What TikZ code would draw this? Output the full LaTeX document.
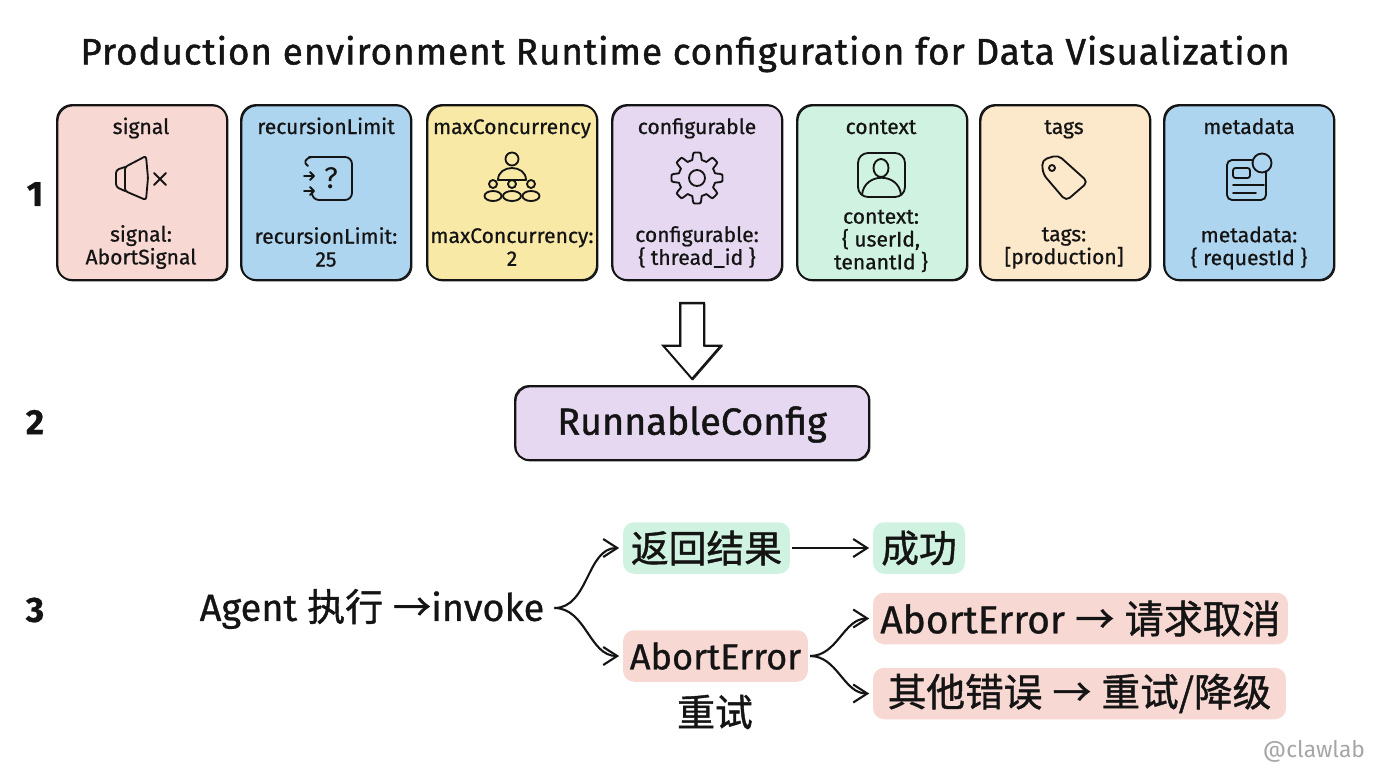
\documentclass[tikz,border=0pt]{standalone}
\usepackage{fontspec}
\setmainfont[FakeBold=0.7]{Fira Sans}
\newfontfamily\cjk[FakeBold=1.1]{Noto Sans CJK SC}
\usetikzlibrary{shapes.arrows, arrows.meta}
\definecolor{inkc}{HTML}{141414}
\definecolor{redc}{HTML}{F8D8D3}
\definecolor{bluec}{HTML}{AED5EF}
\definecolor{yellowc}{HTML}{F8E9A6}
\definecolor{purplec}{HTML}{E6D8F1}
\definecolor{greenc}{HTML}{D0F3E1}
\definecolor{orangec}{HTML}{FCE8CA}
\tikzset{
	sketch/.style={postaction={draw=inkc, line width=0.55pt, transform canvas={shift={(0.55pt, -0.5pt)}}}},
	card/.style={draw=inkc, line width=1.05pt, rounded corners=0.3cm, minimum width=3.4cm, minimum height=3.5cm, sketch},
	cardtext/.style={text=inkc, font=\fontsize{12}{13}\selectfont, align=center, inner sep=0pt},
	cardname/.style={cardtext, anchor=base},
	icon/.style={draw=inkc, line width=1.05pt, line cap=round, line join=round},
	rownum/.style={text=inkc, font=\fontsize{20}{24}\selectfont\bfseries},
	chip/.style={rounded corners=0.22cm, minimum height=1.03cm, text=inkc, font=\fontsize{21.5}{25}\selectfont, inner sep=0pt},
	flow/.style={draw=inkc, line width=1.2pt, -{Straight Barb[length=2.8mm, width=3.6mm]}, shorten <=1pt, shorten >=2pt},
}
\begin{document}
\begin{tikzpicture}[x=0.02cm, y=-0.02cm]
	\useasboundingbox (0, 0) rectangle (1376, 768);
	\node[text=inkc, font=\fontsize{21}{25}\selectfont\addfontfeature{LetterSpace=2.5, FakeBold=1.2}] (title) at (685, 54) {Production environment Runtime configuration for Data Visualization};
	\node[rownum] (rowa) at (35, 194) {1};
	\node[rownum] (rowb) at (35, 422) {2};
	\node[rownum] (rowc) at (35, 610) {3};

	\node[card, fill=redc] (signal) at (142, 192.5) {};
	\node[card, fill=bluec] (recursion) at (326, 192.5) {};
	\node[card, fill=yellowc] (concurrency) at (512, 192.5) {};
	\node[card, fill=purplec] (configurable) at (697, 192.5) {};
	\node[card, fill=greenc] (context) at (882, 192.5) {};
	\node[card, fill=orangec] (tags) at (1065, 192.5) {};
	\node[card, fill=bluec] (metadata) at (1249, 192.5) {};

	\node[cardname] (signalname) at (141, 134) {signal};
	\node[cardname] (recursionname) at (326, 134) {recursionLimit};
	\node[cardname] (concurrencyname) at (512, 134) {maxConcurrency};
	\node[cardname] (configurablename) at (697, 134) {configurable};
	\node[cardname] (contextname) at (881, 134) {context};
	\node[cardname] (tagsname) at (1064, 134) {tags};
	\node[cardname] (metadataname) at (1249, 134) {metadata};

	\node[cardtext] (signalvalue) at (141, 247) {signal:\\AbortSignal};
	\node[cardtext] (recursionvalue) at (326, 247) {recursionLimit:\\25};
	\node[cardtext] (concurrencyvalue) at (512, 247) {maxConcurrency:\\2};
	\node[cardtext] (configurablevalue) at (697, 247) {configurable:\\\{ thread\_id \}};
	\node[cardtext] (contextvalue) at (881, 241) {context:\\\{ userId,\\tenantId \}};
	\node[cardtext] (tagsvalue) at (1064, 248) {tags:\\{[production]}};
	\node[cardtext] (metadatavalue) at (1249, 248) {metadata:\\\{ requestId \}};

	\draw[icon, rounded corners=0.06cm] (125, 167) -- (116, 170) -- (116, 187) -- (125, 191);
	\draw[icon, rounded corners=0.05cm] (125, 167) -- (146, 156) -- (148, 178) -- (146, 200) -- (125, 191) -- cycle;
	\draw[icon] (154, 173) -- (166, 185) (166, 173) -- (154, 185);

	\draw[icon, rounded corners=0.14cm] (309, 157) -- (352, 157) -- (352, 200) -- (312, 200) -- (312, 192);
	\draw[icon] (312, 157) .. controls (305, 158) and (303, 163) .. (308, 166);
	\draw[icon] (304, 176) -- (314, 176) (310, 172) -- (314, 176) -- (310, 180);
	\draw[icon] (304, 191) -- (314, 191) (310, 187) -- (314, 191) -- (310, 195);
	\node[text=inkc, font=\fontsize{17}{20}\selectfont\addfontfeature{FakeBold=0}, inner sep=0pt] (question) at (331, 178) {?};

	\draw[icon] (512, 159) circle[radius=6.5];
	\draw[icon] (498, 180) .. controls (498, 164) and (526, 164) .. (526, 180) -- cycle;
	\draw[icon] (493, 184) circle[radius=4];
	\draw[icon] (512, 184) circle[radius=4];
	\draw[icon] (531, 184) circle[radius=4];
	\draw[icon] (493, 196) ellipse[x radius=8.5, y radius=5];
	\draw[icon] (512, 196) ellipse[x radius=9, y radius=5];
	\draw[icon] (531, 196) ellipse[x radius=8.5, y radius=5];

	\draw[icon] plot[domain=0:360, samples=145, smooth] ({697 + (22 + 3.5*max(min(2.5*cos(8*\x), 1), -1))*cos(\x)}, {178 + (22 + 3.5*max(min(2.5*cos(8*\x), 1), -1))*sin(\x)}) -- cycle;
	\draw[icon] (697, 178) circle[radius=8];

	\draw[icon, rounded corners=0.2cm] (858, 153) rectangle (905, 197);
	\draw[icon] (881, 168) ellipse[x radius=7.5, y radius=9];
	\draw[icon] (862, 195) .. controls (864, 172) and (899, 172) .. (901, 195);

	\draw[icon, rounded corners=0.1cm] (1042, 160) -- (1058, 155) -- (1088, 182) -- (1066, 201) -- (1043, 174) -- cycle;
	\draw[icon] (1052, 168) circle[radius=3];

	\draw[icon, rounded corners=0.1cm] (1252, 160) -- (1227, 160) -- (1227, 200) -- (1266, 200) -- (1266, 171);
	\draw[icon] (1262, 163) circle[radius=9.5];
	\draw[icon, rounded corners=0.05cm] (1233, 168) rectangle (1250, 178);
	\draw[icon] (1233, 185) -- (1264, 185);
	\draw[icon] (1233, 193) -- (1256, 193);

	\node[draw=inkc, line width=1.1pt, fill=white, shape=single arrow, rotate=-90, minimum height=1.52cm, minimum width=1.12cm, single arrow head extend=0.34cm, single arrow head indent=0cm, single arrow tip angle=82, inner sep=0.22cm, sketch] (bigarrow) at (692, 334) {};

	\node[draw=inkc, line width=1.05pt, fill=purplec, rounded corners=0.28cm, minimum width=7.08cm, minimum height=1.48cm, sketch] (runnable) at (692, 423) {};
	\node[text=inkc, font=\fontsize{21.5}{25}\selectfont\addfontfeature{FakeBold=1.2}] (runnablename) at (692, 424.5) {RunnableConfig};

	\node[text=inkc, font=\fontsize{21.6}{25}\selectfont, inner sep=0pt] (invoke) at (372, 609) {Agent {\cjk 执行} {\cjk →}invoke};
	\node[chip, fill=greenc, minimum width=3.34cm] (result) at (706.5, 548) {\cjk 返回结果};
	\node[chip, fill=greenc, minimum width=1.84cm] (success) at (919, 548) {\cjk 成功};
	\node[chip, fill=redc, minimum width=3.7cm, font=\fontsize{20.6}{25}\selectfont] (aborterror) at (715.5, 656) {AbortError};
	\node[text=inkc, font=\cjk\fontsize{21.5}{25}\selectfont, inner sep=0pt] (retry) at (715, 712) {重试};
	\node[chip, fill=redc, minimum width=8.3cm, font=\fontsize{22.2}{25}\selectfont] (cancel) at (1080.5, 618.5) {AbortError {\cjk →} {\cjk 请求取消}};
	\node[chip, fill=redc, minimum width=8.26cm, font=\fontsize{22}{25}\selectfont] (fallback) at (1079.5, 693.5) {{\cjk 其他错误} {\cjk →} {\cjk 重试/降级}};

	\draw[flow] (invoke.east) ++(8, -1) to[out=0, in=180] (result.west);
	\draw[flow] (invoke.east) ++(8, -1) to[out=0, in=180] (aborterror.west);
	\draw[flow] (result.east) -- (success.west);
	\draw[flow] (aborterror.east) to[out=0, in=180] (cancel.west);
	\draw[flow] (aborterror.east) to[out=0, in=180] (fallback.west);

	\node[text=black!35, font=\fontsize{13}{15}\selectfont\addfontfeature{FakeBold=0}, inner sep=0pt] (mark) at (1314, 751) {@clawlab};
\end{tikzpicture}
\end{document}
